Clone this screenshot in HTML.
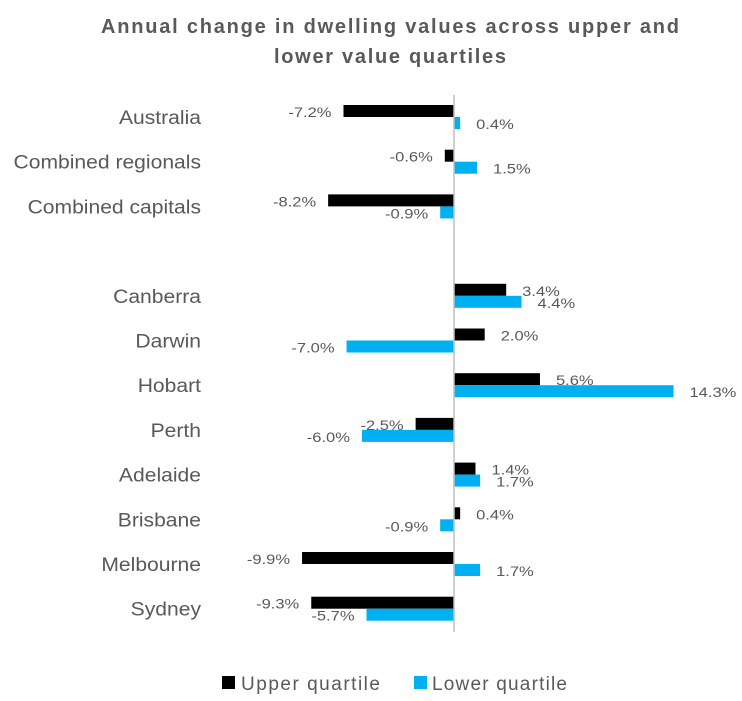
<!DOCTYPE html>
<html><head><meta charset="utf-8"><style>
body{margin:0;background:#fff;}
svg{display:block;font-family:"Liberation Sans",Arial,sans-serif;}
</style></head><body>
<svg id="chart" width="742" height="701">
<text x="390" y="33" text-anchor="middle" font-size="20" font-weight="bold" fill="#595959" textLength="578">Annual change in dwelling values across upper and</text>
<text x="390" y="63" text-anchor="middle" font-size="20" font-weight="bold" fill="#595959" textLength="232">lower value quartiles</text>
<g id="plot"></g>
<g>
<rect x="222" y="676" width="13" height="13" fill="#000"/>
<text x="241" y="690" font-size="19" fill="#595959" textLength="139">Upper quartile</text>
<rect x="414" y="676" width="13" height="13" fill="#00B0F0"/>
<text x="432" y="690" font-size="19" fill="#595959" textLength="135">Lower quartile</text>
</g>
</svg>
<script>
const categories = ["Australia","Combined regionals","Combined capitals","","Canberra","Darwin","Hobart","Perth","Adelaide","Brisbane","Melbourne","Sydney"];
const upperValues = [-7.2,-0.6,-8.2,null,3.4,2.0,5.6,-2.5,1.4,0.4,-9.9,-9.3];
const lowerValues = [0.4,1.5,-0.9,null,4.4,-7.0,14.3,-6.0,1.7,-0.9,1.7,-5.7];

const NS="http://www.w3.org/2000/svg";
const plot=document.getElementById('plot');
const zeroX=454, pxPer=15.35, top0=117, step=44.7, barH=12;
const x=v=>zeroX+v*pxPer;
const y=i=>top0+i*step;
function mk(tag,attrs){const e=document.createElementNS(NS,tag);for(const k in attrs)e.setAttribute(k,attrs[k]);plot.appendChild(e);return e;}
function fmt(v){return v.toFixed(1)+"%";}
categories.forEach((c,i)=>{
  if(c==="")return;
  const cy=y(i);
  const t=mk('text',{x:201,y:cy+7,'text-anchor':'end','font-size':19,fill:'#595959',transform:'translate(201 0) scale(1.11 1) translate(-201 0)'});
  t.textContent=c;
  
  
  [[upperValues[i],'#000',cy-barH,'upper'],[lowerValues[i],'#00B0F0',cy,'lower']].forEach(([v,col,by,s])=>{
    const r=mk('rect',{x:Math.min(x(0),x(v)),y:by,width:Math.abs(x(v)-x(0)),height:barH,fill:col});
    
    
    const lx=v<0?x(v)-12:x(v)+16;
    const anchor=v<0?'end':'start';
    const l=mk('text',{x:lx,y:by+12,'text-anchor':anchor,'font-size':14,fill:'#595959',transform:`translate(${lx} 0) scale(1.18 1) translate(${-lx} 0)`});
    l.textContent=fmt(v);
    
    
  });
});
const ax=mk('line',{x1:zeroX,x2:zeroX,y1:95,y2:632,stroke:'#BFBFBF','stroke-width':1.5});


</script>
</body></html>
